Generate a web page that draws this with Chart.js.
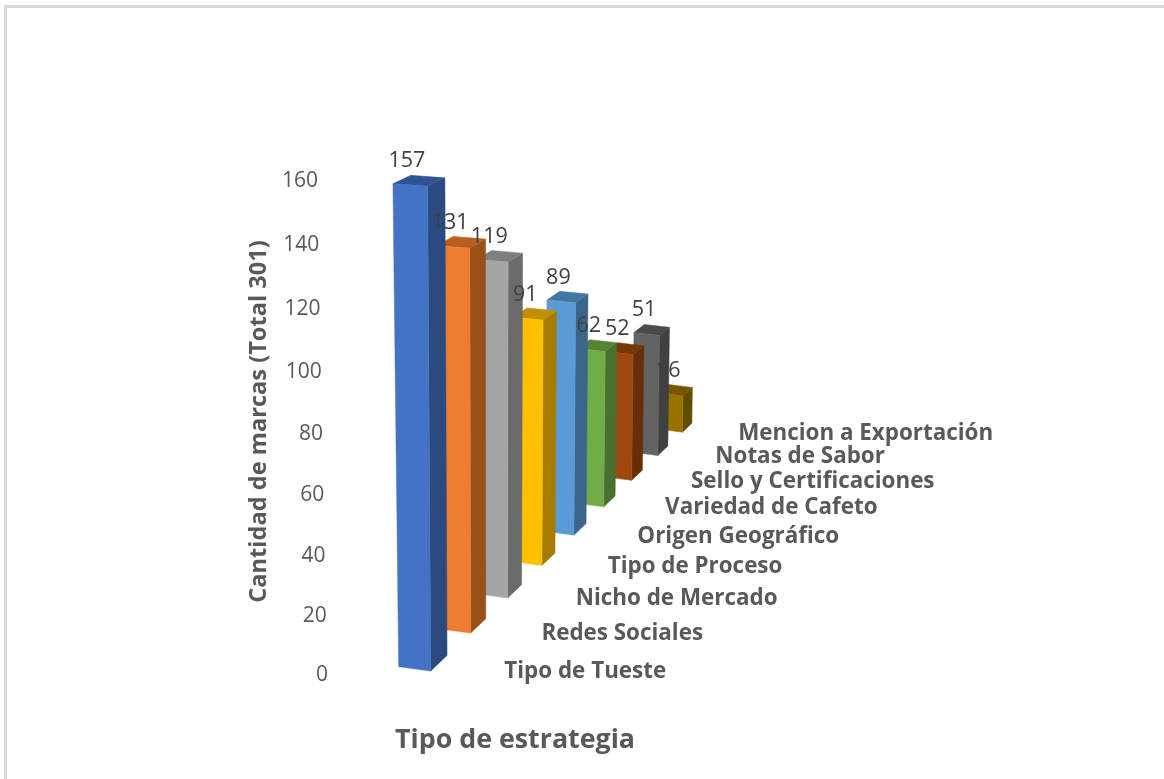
<!DOCTYPE html>
<html lang="es">
<head>
<meta charset="utf-8">
<title>Tipo de estrategia</title>
<script src="https://cdn.jsdelivr.net/npm/chart.js@4"></script>
<style>
  html, body { margin: 0; background: #fff; }
  #frame { position: absolute; left: 4px; top: 5px; right: 0; bottom: 0; border-top: 3px solid #d9d9d9; border-left: 3px solid #d9d9d9; }
  canvas { position: absolute; left: 0; top: 0; }
</style>
</head>
<body>
<div id="frame"></div>
<canvas id="chart" width="1164" height="779"></canvas>
<script>
// Datos
const categories = ['Tipo de Tueste', 'Redes Sociales', 'Nicho de Mercado', 'Tipo de Proceso', 'Origen Geográfico',
  'Variedad de Cafeto', 'Sello y Certificaciones', 'Notas de Sabor', 'Mencion a Exportación'];
const values = [157, 131, 119, 91, 89, 62, 52, 51, 16];
const yAxisTitle = 'Cantidad de marcas (Total 301)';
const xAxisTitle = 'Tipo de estrategia';

// Colores de cada cara de las barras
const frontColors = ['#4472C4', '#ED7D31', '#A5A5A5', '#FFC000', '#5B9BD5', '#70AD47', '#9E480E', '#636363', '#997300'];
const sideColors = ['#2A4A80', '#9A5119', '#6B6B6B', '#A67C00', '#3B658B', '#487030', '#672F09', '#404040', '#634B00'];
const topColors = ['#2F5597', '#B65F1F', '#7F7F7F', '#C09000', '#4476A2', '#558235', '#78360B', '#4B4B4B', '#745700'];

const FONT = '"Open Sans", "Noto Sans", sans-serif';
const BAR_DEPTH = 0.4;

// Proyeccion en perspectiva: toma la posicion de las escalas y la lleva a la pantalla
function project(chart, index, across, depth, value) {
  const { x, y } = chart.scales;
  const step = x.getPixelForValue(1) - x.getPixelForValue(0);
  const z = (x.getPixelForValue(index) - x.getPixelForValue(0)) / step + depth;
  const rise = (y.bottom - y.getPixelForValue(value)) / y.height;
  const w = 1 + 0.04 * z - 0.08 * rise;
  return {
    x: (398.7 + 32 * across + 58.76 * z - (37.3 + 1.3 * z) * rise) / w,
    y: (666.7 + (4.3 - 2 * rise) * across - 12.56 * z - 506.8 * rise) / w
  };
}

function fillFace(ctx, color, points) {
  ctx.fillStyle = color;
  ctx.strokeStyle = color;
  ctx.lineWidth = 0.5;
  ctx.beginPath();
  points.forEach((p, i) => (i ? ctx.lineTo(p.x, p.y) : ctx.moveTo(p.x, p.y)));
  ctx.closePath();
  ctx.fill();
  ctx.stroke();
}

// Barras con tres caras, dibujadas desde el fondo hacia adelante
class Bar3dController extends Chart.BarController {
  static id = 'bar3d';
  static defaults = Chart.BarController.defaults;

  draw() {
    const chart = this.chart;
    const ctx = this._ctx;
    for (let i = this._cachedMeta.data.length - 1; i >= 0; i--) {
      const v = this.getParsed(i).y;
      const corner = (across, depth, value) => project(chart, i, across, depth, value);
      fillFace(ctx, sideColors[i], [corner(1, 0, 0), corner(1, BAR_DEPTH, 0), corner(1, BAR_DEPTH, v), corner(1, 0, v)]);
      fillFace(ctx, topColors[i], [corner(0, 0, v), corner(1, 0, v), corner(1, BAR_DEPTH, v), corner(0, BAR_DEPTH, v)]);
      fillFace(ctx, frontColors[i], [corner(0, 0, 0), corner(1, 0, 0), corner(1, 0, v), corner(0, 0, v)]);
    }
  }
}

// Eje Y inclinado: solo desplaza las etiquetas que genera la escala
class TiltedLinearScale extends Chart.LinearScale {
  static id = 'tiltedLinear';
  static defaults = Chart.LinearScale.defaults;

  _computeLabelArea() {
    return undefined; // las etiquetas quedan fuera de la caja de la escala
  }

  _computeLabelItems(chartArea) {
    const items = super._computeLabelItems(chartArea);
    items.forEach(item => {
      const rise = (this.bottom - item.options.translation[1]) / this.height;
      item.options.translation = [328 - 10 * rise, 675 - 470.4 * rise / (1 - 0.048 * rise)];
      item.options.textAlign = 'right';
    });
    return items;
  }
}

Chart.register(Bar3dController, TiltedLinearScale);

const labelsPlugin = {
  id: 'labelsPlugin',
  afterDatasetsDraw(chart) {
    const ctx = chart.ctx;
    ctx.save();
    ctx.textBaseline = 'middle';

    // Valores sobre cada barra
    ctx.font = '21.5px ' + FONT;
    ctx.fillStyle = '#404040';
    ctx.textAlign = 'center';
    chart.data.datasets[0].data.forEach((v, i) => {
      const p = project(chart, i, 0.4, 0, v);
      ctx.fillText(String(v), p.x, p.y - 23.5);
    });

    // Categorias en profundidad
    ctx.font = 'bold 22.4px ' + FONT;
    ctx.fillStyle = '#595959';
    ctx.textAlign = 'left';
    chart.data.labels.forEach((label, i) => {
      const anchor = project(chart, i, 3.3, 0, 0);
      ctx.fillText(label, anchor.x, project(chart, i, 1, 0, 0).y + 1);
    });

    // Titulos de los ejes
    ctx.font = 'bold 26.8px ' + FONT;
    ctx.fillText(xAxisTitle, 395, 740);
    ctx.font = 'bold 23.6px ' + FONT;
    ctx.textAlign = 'center';
    ctx.translate(259, 421.5);
    ctx.rotate(-Math.PI / 2);
    ctx.fillText(yAxisTitle, 0, 0);
    ctx.restore();
  }
};

new Chart(document.getElementById('chart'), {
  type: 'bar3d',
  data: {
    labels: categories,
    datasets: [{ data: values, clip: false }]
  },
  options: {
    responsive: false,
    animation: false,
    layout: { padding: { top: 179, bottom: 106 } },
    plugins: { legend: { display: false }, tooltip: { enabled: false } },
    scales: {
      x: { type: 'category', display: false },
      y: {
        type: 'tiltedLinear',
        min: 0,
        max: 160,
        grid: { display: false },
        border: { display: false },
        ticks: { stepSize: 20, color: '#595959', font: { family: FONT, size: 21 } }
      }
    }
  },
  plugins: [labelsPlugin]
});
</script>
</body>
</html>
